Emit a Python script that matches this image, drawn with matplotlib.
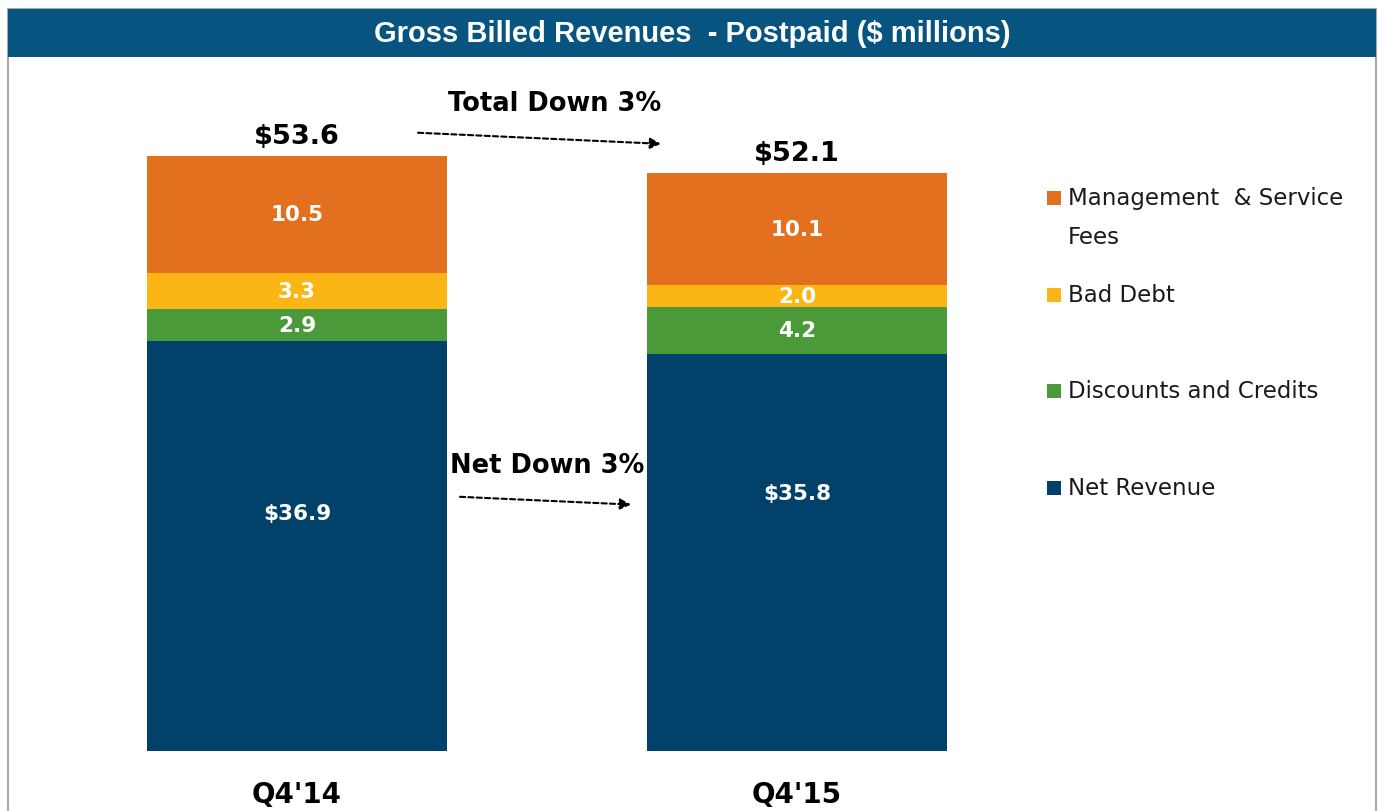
import matplotlib.pyplot as plt
from matplotlib.patches import Rectangle

quarters = ["Q4'14", "Q4'15"]
series = ["Net Revenue", "Discounts and Credits", "Bad Debt", "Management  & Service\nFees"]
net_revenue = [36.9, 35.8]
discounts = [2.9, 4.2]
bad_debt = [3.3, 2.0]
mgmt_fees = [10.5, 10.1]
totals = [53.6, 52.1]
seg_labels = [["$36.9", "2.9", "3.3", "10.5"], ["$35.8", "4.2", "2.0", "10.1"]]
colors = ["#02426a", "#4a9a3a", "#fbb616", "#e2701f"]

W, H = 1383, 812
fig = plt.figure(figsize=(W / 100, H / 100), dpi=100, facecolor="white")

# frame + title bar
fig.patches.append(Rectangle((8 / W, -0.01), 1368 / W, 1 - 10 / H + 0.01, transform=fig.transFigure,
                             facecolor="none", edgecolor="#a8a8a8", lw=1.5, zorder=0))
fig.patches.append(Rectangle((8 / W, 1 - 58 / H), 1368 / W, 48 / H, transform=fig.transFigure,
                             facecolor="#06547f", edgecolor="none", zorder=1))
fig.text(692 / W, 1 - 34 / H, "Gross Billed Revenues  - Postpaid ($ millions)", color="white",
         fontsize=21, fontweight="bold", family="Liberation Sans", ha="center", va="center")

# axes: bottom at y=752px, top at 58px; x=0 -> 297px, 500px per unit
ax = fig.add_axes([0, (H - 752) / H, 1, (752 - 58) / H])
ax.set_xlim(-297 / 500, (W - 297) / 500)
ax.set_ylim(0, (752 - 58) / 11.1)
ax.axis("off")
ax.patch.set_alpha(0)

x = [0, 1]
stack = [net_revenue, discounts, bad_debt, mgmt_fees]
bottoms = [0, 0]
net_frac = [0.58, 0.65]
for i, vals in enumerate(stack):
    ax.bar(x, vals, width=0.6, bottom=bottoms, color=colors[i], zorder=2)
    for j in range(2):
        if i == 0:
            yy = vals[j] * net_frac[j]
        else:
            yy = bottoms[j] + vals[j] / 2
        ax.text(x[j], yy, seg_labels[j][i], color="white", fontsize=15.5, fontweight="bold",
                family="DejaVu Sans", ha="center", va="center", zorder=3)
    bottoms = [bottoms[j] + vals[j] for j in range(2)]

for j in range(2):
    ax.annotate(f"${totals[j]}", (x[j], totals[j]), xytext=(0, 5), textcoords="offset points",
                ha="center", va="bottom", fontsize=19.5, fontweight="bold", family="DejaVu Sans")
    ax.annotate(quarters[j], (x[j], 0), xytext=(0, -31), textcoords="offset points",
                ha="center", va="center", fontsize=20, fontweight="bold", family="DejaVu Sans")

# annotations
ax.text(0.516, 58.4, "Total Down 3%", ha="center", va="center", fontsize=18.5,
        fontweight="bold", family="DejaVu Sans")
ax.annotate("", xy=(0.728, totals[1] + 2.6), xytext=(0.242, totals[0] + 2.1),
            arrowprops=dict(arrowstyle="-|>", ls=(0, (2.5, 1.5)), lw=1.5, color="black",
                            mutation_scale=16, shrinkA=0, shrinkB=0))
ax.text(0.5, 25.8, "Net Down 3%", ha="center", va="center", fontsize=18.5,
        fontweight="bold", family="DejaVu Sans")
ax.annotate("", xy=(0.668, 22.2), xytext=(0.326, 22.9),
            arrowprops=dict(arrowstyle="-|>", ls=(0, (2.5, 1.5)), lw=1.5, color="black",
                            mutation_scale=16, shrinkA=0, shrinkB=0))

# legend
leg_y = [199, 296, 392, 489]
leg_items = list(zip(series[::-1], colors[::-1]))
for (name, c), yy in zip(leg_items, leg_y):
    fig.patches.append(Rectangle((1047 / W, 1 - (yy + 7) / H), 14 / W, 14 / H,
                                 transform=fig.transFigure, facecolor=c, edgecolor="none"))
    for k, line in enumerate(name.split("\n")):
        fig.text(1068 / W, 1 - (yy + 38 * k) / H, line, fontsize=16.5, family="DejaVu Sans",
                 va="center", color="#1a1a1a")

fig.savefig("out.png", dpi=100)
